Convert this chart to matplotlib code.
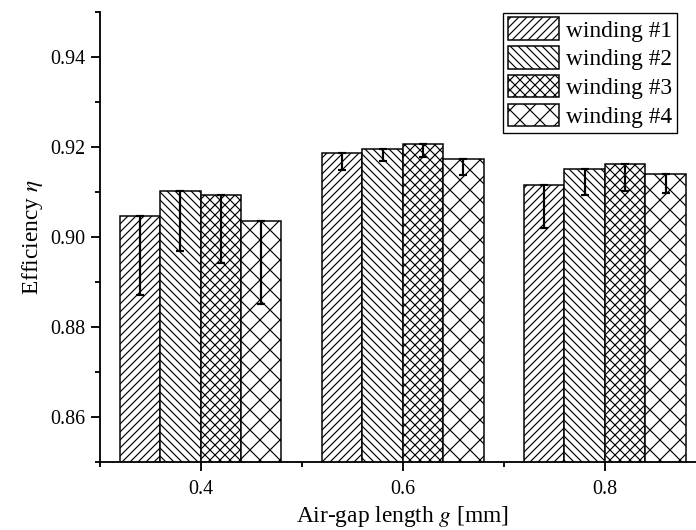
import numpy as np
import matplotlib
matplotlib.use("Agg")
import matplotlib.pyplot as plt
from matplotlib.ticker import MultipleLocator, FixedLocator

# ---------------- Data ----------------
air_gap = [0.4, 0.6, 0.8]
labels = ["winding #1", "winding #2", "winding #3", "winding #4"]

eff_w1 = [0.9047, 0.9187, 0.9116]
eff_w2 = [0.9103, 0.9196, 0.9152]
eff_w3 = [0.9094, 0.9207, 0.9162]
eff_w4 = [0.9036, 0.9173, 0.9141]

# lower error (one-sided)
err_w1 = [0.0175, 0.0039, 0.0097]
err_w2 = [0.0133, 0.0027, 0.0059]
err_w3 = [0.0151, 0.0029, 0.0059]
err_w4 = [0.0184, 0.0036, 0.0043]

# ---------------- Style ----------------
plt.rcParams["font.family"] = ["Liberation Serif", "DejaVu Serif"]
plt.rcParams["mathtext.fontset"] = "stix"
plt.rcParams["hatch.linewidth"] = 0.7

DPI = 120
fig = plt.figure(figsize=(696 / DPI, 530 / DPI), dpi=DPI)
# axes extends slightly past the right edge like the original
ax = fig.add_axes([99.5 / 696, 68 / 530, 606.5 / 696, 450 / 530])

x = np.array(air_gap)
width = 0.04
offsets = [-1.5 * width, -0.5 * width, 0.5 * width, 1.5 * width]
hatches = ["/////", "\\\\\\\\\\", "xxxx", "xx"]
series = [eff_w1, eff_w2, eff_w3, eff_w4]
errors = [err_w1, err_w2, err_w3, err_w4]

for vals, errs, off, h, lab in zip(series, errors, offsets, hatches, labels):
    ax.bar(x + off, vals, width, facecolor="white", edgecolor="black",
           linewidth=0.9, hatch=h, label=lab, zorder=2)
    ax.errorbar(x + off, vals, yerr=[errs, np.zeros(len(errs))], fmt="none",
                ecolor="black", elinewidth=1.3, capsize=2.4, capthick=1.3, zorder=3)

ax.set_xlim(0.3, 0.9)
ax.set_ylim(0.85, 0.95)

ax.xaxis.set_major_locator(FixedLocator(air_gap))
ax.xaxis.set_minor_locator(FixedLocator([0.3, 0.5, 0.7, 0.9]))
ax.set_xticklabels(["0.4", "0.6", "0.8"])
ax.yaxis.set_major_locator(FixedLocator([0.86, 0.88, 0.90, 0.92, 0.94]))
ax.yaxis.set_minor_locator(MultipleLocator(0.01))
ax.set_yticklabels(["0.86", "0.88", "0.90", "0.92", "0.94"])

ax.spines["top"].set_visible(False)
ax.spines["right"].set_visible(False)
ax.spines["left"].set_linewidth(1.1)
ax.spines["bottom"].set_linewidth(1.1)
ax.tick_params(which="major", direction="out", length=5.4, width=1.1, labelsize=12, pad=3)
ax.tick_params(which="minor", direction="out", length=3, width=1.1)
ax.tick_params(axis="x", which="major", pad=5.5)

ax.set_xlabel("Air-gap length $g$ [mm]", fontsize=14, labelpad=3)
ax.set_ylabel("Efficiency $\\eta$", fontsize=14, labelpad=3)

leg = ax.legend(loc="upper right", bbox_to_anchor=(676.7 / 696, 1 - 12.7 / 530),
                bbox_transform=fig.transFigure, borderaxespad=0, fontsize=14,
                frameon=True, fancybox=False, edgecolor="black", framealpha=1,
                handlelength=2.2, handleheight=1.1, labelspacing=0.2,
                handletextpad=0.3, borderpad=0.2)
leg.get_frame().set_linewidth(0.8)

fig.savefig("out.png", dpi=DPI)
plt.close(fig)
